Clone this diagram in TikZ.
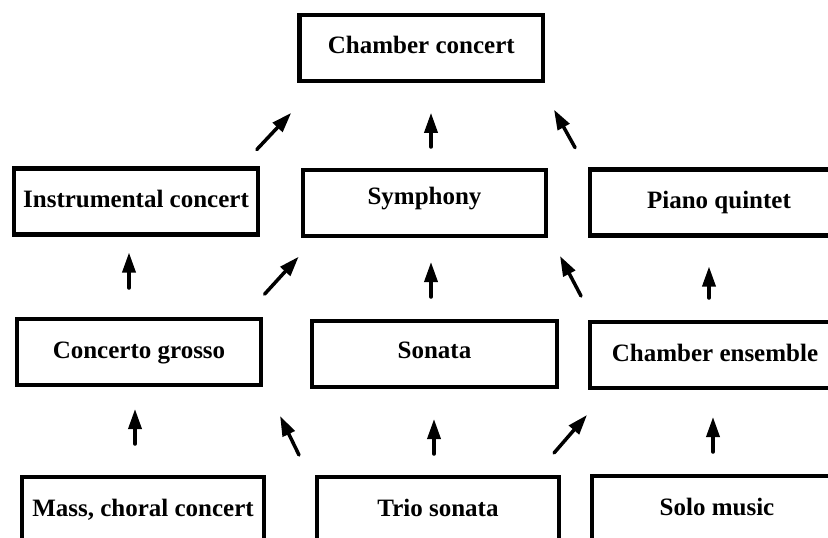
\documentclass[tikz,border=0pt]{standalone}
\usepackage{fontspec}
\setmainfont{Liberation Serif}
\usetikzlibrary{arrows.meta}

\begin{document}
\begin{tikzpicture}[x=1pt, y=-1pt,
        stage/.style={draw, line width=4.5pt, outer sep=0pt, inner sep=0pt,
            minimum height=66pt, font=\fontsize{25}{28}\bfseries,
            text height=17pt, text depth=5pt},
        link/.style={line width=3.5pt, line cap=round,
            -{Triangle[length=20pt, width=13pt]}}]
        \useasboundingbox (0,0) rectangle (828,538);
        \clip (0,0) rectangle (828,538);

        % top
        \node[stage, minimum width=243.5pt] (cc) at (421.3,47.8) {Chamber concert};

        % first row
        \node[stage, minimum width=244pt] (ic) at (136,201.5) {Instrumental concert};
        \node[stage, minimum width=243pt, text depth=14pt] (sym) at (424.5,203) {Symphony};
        \node[stage, minimum width=258pt] (pq) at (719,202.5) {Piano quintet};

        % second row
        \node[stage, minimum width=244pt] (cg) at (139,352) {Concerto grosso};
        \node[stage, minimum width=245pt, text depth=8pt] (son) at (434.5,354) {Sonata};
        \node[stage, minimum width=250pt] (ce) at (715,355) {Chamber ensemble};

        % bottom row
        \node[stage, minimum width=242pt] (mass) at (143,510) {Mass, choral concert};
        \node[stage, minimum width=242pt] (trio) at (438,510) {Trio sonata};
        \node[stage, minimum width=250pt] (solo) at (717,509) {Solo music};

        % arrows into chamber concert
        \draw[link, shorten <=26pt, shorten >=44pt] ([xshift=103pt]ic.north) -- ([xshift=-100pt]cc.south);
        \draw[link, shorten <=23pt, shorten >=32pt] ([xshift=6.5pt]sym.north) -- ([xshift=9.7pt]cc.south);
        \draw[link, shorten <=25pt, shorten >=33pt] ([xshift=-131.8pt]pq.north) -- ([xshift=116.7pt]cc.south);

        % arrows into first row
        \draw[link, shorten <=31pt, shorten >=18pt] ([xshift=-10pt]cg.north) -- ([xshift=-7pt]ic.south);
        \draw[link, shorten <=33.5pt, shorten >=28pt] ([xshift=103pt]cg.north) -- ([xshift=-107pt]sym.south);
        \draw[link, shorten <=24pt, shorten >=26pt] ([xshift=-3.5pt]son.north) -- ([xshift=6.5pt]sym.south);
        \draw[link, shorten <=29.4pt, shorten >=22.6pt] ([xshift=-120.3pt]ce.north) -- ([xshift=125pt]sym.south);
        \draw[link, shorten <=24pt, shorten >=31pt] ([xshift=-6pt]ce.north) -- ([xshift=-10pt]pq.south);

        % arrows into second row
        \draw[link, shorten <=33pt, shorten >=24pt] ([xshift=-8pt]mass.north) -- ([xshift=-4pt]cg.south);
        \draw[link, shorten <=24.5pt, shorten >=34.5pt] ([xshift=-128.3pt]trio.north) -- ([xshift=126pt]cg.south);
        \draw[link, shorten <=23pt, shorten >=32pt] ([xshift=-4pt]trio.north) -- ([xshift=-0.5pt]son.south);
        \draw[link, shorten <=31.8pt, shorten >=35.7pt] ([xshift=95.2pt]trio.north) -- ([xshift=-104.6pt]ce.south);
        \draw[link, shorten <=24pt, shorten >=29pt] ([xshift=-4pt]solo.north) -- ([xshift=-2pt]ce.south);
\end{tikzpicture}
\end{document}
